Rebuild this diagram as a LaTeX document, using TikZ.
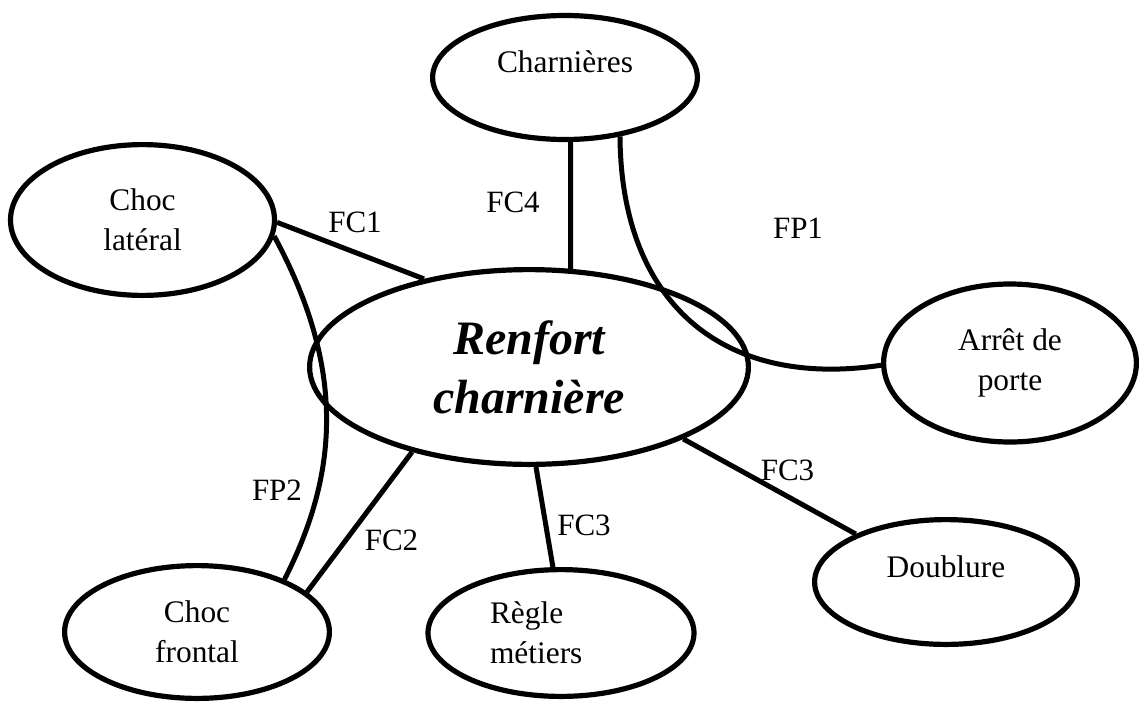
\documentclass[tikz,border=0pt]{standalone}
\usepackage{fontspec}
\setmainfont{Liberation Serif}
\usetikzlibrary{shapes.geometric}
\tikzset{
  bubble/.style={
    ellipse, draw=black, line width=2.6pt, inner sep=0pt, align=center,
    font=\fontsize{15.7}{20}\selectfont
  },
  mainbubble/.style={
    bubble, font=\fontsize{24}{29.5}\selectfont\bfseries\itshape
  },
  link/.style={draw=black, line width=2.5pt},
  linklabel/.style={font=\fontsize{15.5}{20}\selectfont, anchor=base, inner sep=0pt}
}

\begin{document}
\begin{tikzpicture}[x=0.5pt, y=-0.5pt]
\useasboundingbox (0,0) rectangle (1139,702);

\node[mainbubble, minimum width=219.4pt, minimum height=97.4pt] (renfort) at (529,367) {Renfort\\charnière};
\node[bubble, minimum width=132.4pt, minimum height=62pt, text depth=15.5pt] (charn) at (565,77.5) {Charnières};
\node[bubble, minimum width=132pt, minimum height=75.4pt] (lateral) at (142.5,220) {Choc\\latéral};
\node[bubble, minimum width=126.4pt, minimum height=79pt] (arret) at (1010,363) {Arrêt de\\porte};
\node[bubble, minimum width=131.4pt, minimum height=62.4pt, text depth=15.5pt] (doublure) at (946,582) {Doublure};
\node[bubble, minimum width=133pt, minimum height=63.4pt, text width=71pt, align=left] (regle) at (561,633) {Règle\\métiers};
\node[bubble, minimum width=132.4pt, minimum height=66.4pt] (frontal) at (197,632) {Choc\\frontal};

% links
\draw[link] (lateral.-1) -- (renfort.140);
\draw[link] (charn.-85) -- (renfort.67);
\draw[link] (charn.-47) .. controls +(1,164) and +(-161,24) .. (arret.181);
\draw[link] (lateral.-7) .. controls +(72,133) and +(54,-106) .. (frontal.31);
\draw[link] (renfort.216) -- (frontal.20);
\draw[link] (renfort.-86) -- (regle.97);
\draw[link] (renfort.-25) -- (doublure.152);

% labels
\node[linklabel] (fc1) at (355,232) {FC1};
\node[linklabel] (fc4) at (513,212) {FC4};
\node[linklabel] (fp1) at (798,238) {FP1};
\node[linklabel] (fp2) at (277,500) {FP2};
\node[linklabel] (fc2) at (391.5,550) {FC2};
\node[linklabel] (fc3a) at (584,535) {FC3};
\node[linklabel] (fc3b) at (787.5,480) {FC3};
\end{tikzpicture}
\end{document}
